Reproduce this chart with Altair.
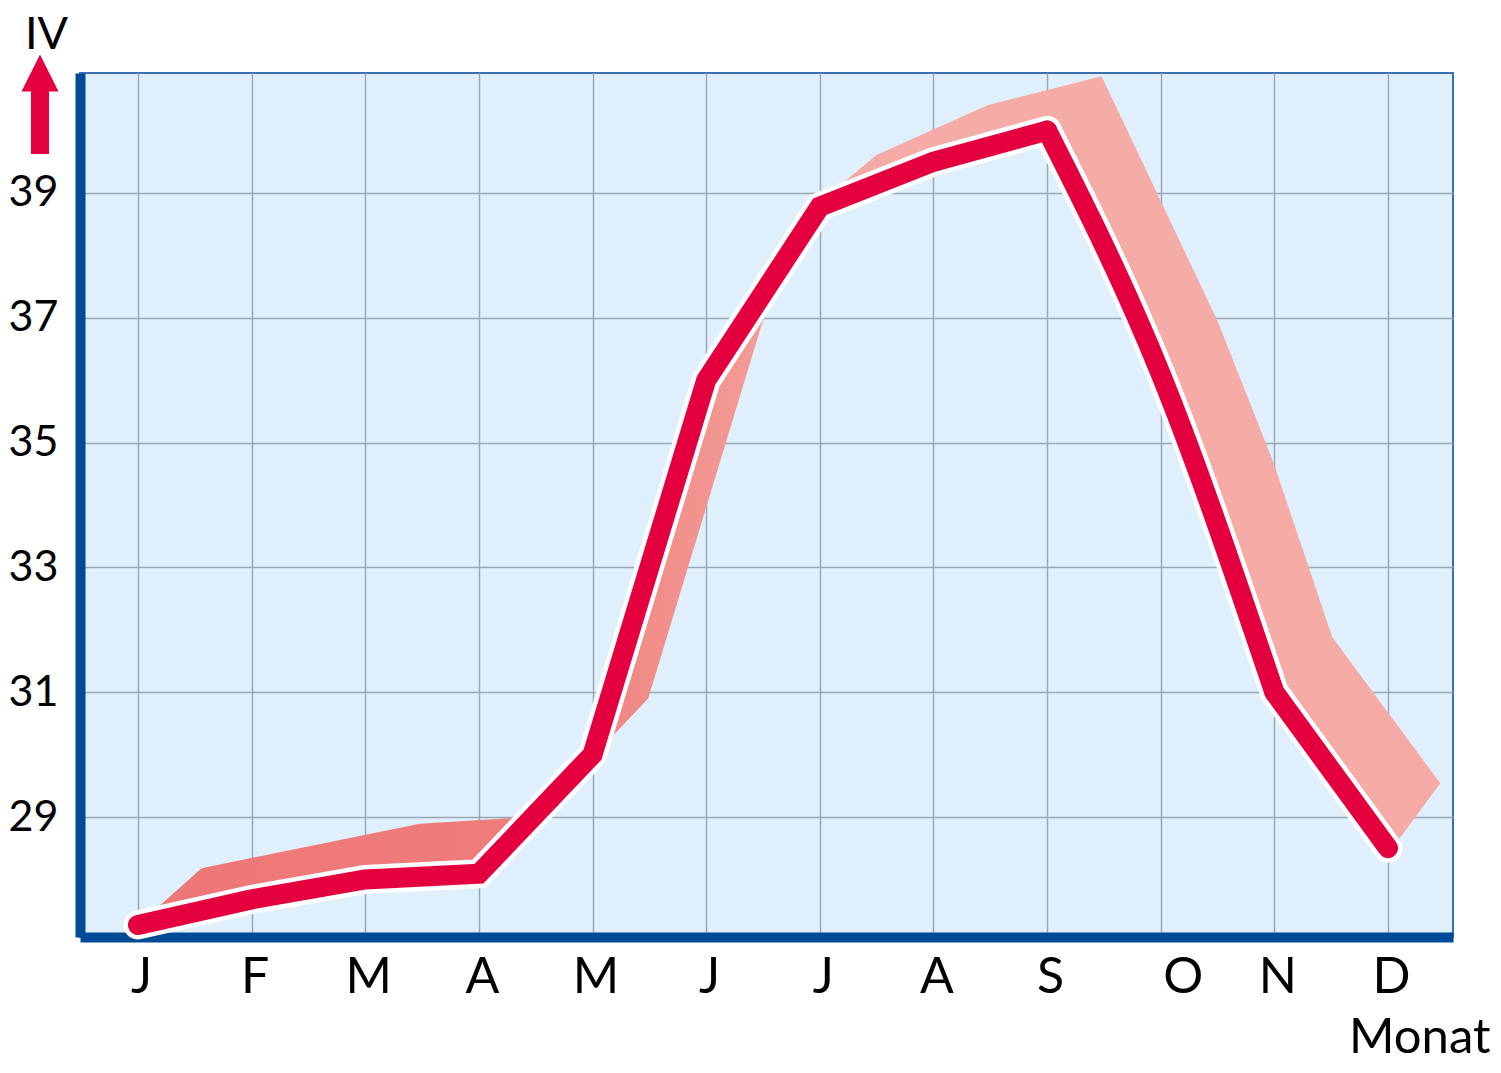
import altair as alt
import pandas as pd

# ---- data ----
months = ["J", "F", "M", "A", "M", "J", "J", "A", "S", "O", "N", "D"]
month_index = list(range(12))
line_values = [27.27, 27.68, 28.0, 28.09, 30.0, 36.0, 38.78, 39.5, 40.0, 36.1, 31.0, 28.5]

band_months = [0.0, 0.56, 2.48, 3.27, 3.5, 4.49, 5.49, 6.0, 6.5, 7.48, 8.48, 9.5, 9.99, 10.51, 11.46, 11.1]
band_values = [27.27, 28.18, 28.89, 28.98, 29.0, 30.9, 36.9, 38.85, 39.61, 40.41, 40.87, 36.95, 34.69, 31.88, 29.54, 28.65]

y_ticks = [29, 31, 33, 35, 37, 39]

RED = "#e4003f"
BLUE = "#004a97"
FONT = "Lato"

# straight pieces (J..S and N..D) and the curved autumn descent (S..N)
straight_df = pd.DataFrame({
    "m": month_index[:9] + month_index[10:],
    "v": line_values[:9] + line_values[10:],
    "seg": ["a"] * 9 + ["b"] * 2,
})
curve_df = pd.DataFrame({"m": month_index[8:11], "v": line_values[8:11]})

# polygon: second curve forward, then main line backward
poly_x = band_months + month_index[::-1]
poly_y = band_values + line_values[::-1]
band_df = pd.DataFrame({"m": poly_x, "v": poly_y, "i": list(range(len(poly_x)))})

x_scale = alt.Scale(domain=[-0.51, 11.572], nice=False, zero=False)
y_scale = alt.Scale(domain=[27.077, 40.923], nice=False, zero=False)

label_expr = "[" + ",".join("'%s'" % m for m in months) + "][datum.value]"

x_axis = alt.Axis(
    values=month_index, labelExpr=label_expr, grid=True, ticks=False, tickSize=0,
    domainColor=BLUE, domainWidth=10, labelPadding=15, labelFontSize=50,
    labelOffset={"condition": {"test": "datum.value === 9", "value": 22}, "value": 3},
    title="Monat", titleAlign="right", titleBaseline="alphabetic",
    titleX=1410, titleY=115, titleFont=FONT, titleFontSize=49, titleFontWeight="normal",
    titleColor="black",
)
y_axis = alt.Axis(
    values=y_ticks, format="d", grid=True, ticks=False, tickSize=0,
    domainColor=BLUE, domainWidth=10, labelPadding=22, labelFontSize=43,
    title="IV", titleAngle=0, titleAlign="center", titleBaseline="alphabetic",
    titleX=-34, titleY=-25, titleFont=FONT, titleFontSize=45, titleFontWeight="normal",
    titleColor="black",
)

gradient = alt.Gradient(
    gradient="linear", x1=0, x2=1, y1=0, y2=0,
    stops=[
        alt.GradientStop(color="#ee7777", offset=0),
        alt.GradientStop(color="#ef7c7b", offset=0.3),
        alt.GradientStop(color="#f29792", offset=0.45),
        alt.GradientStop(color="#f5aca7", offset=0.58),
        alt.GradientStop(color="#f5aaa5", offset=1),
    ],
)

band = alt.Chart(band_df).mark_line(fill=gradient, strokeOpacity=0, strokeWidth=0).encode(
    x=alt.X("m:Q", scale=x_scale, axis=x_axis),
    y=alt.Y("v:Q", scale=y_scale, axis=y_axis),
    order="i:Q",
)

def straight(color, width):
    return alt.Chart(straight_df).mark_line(
        color=color, strokeWidth=width, strokeCap="round", strokeJoin="miter"
    ).encode(x=alt.X("m:Q", scale=x_scale), y=alt.Y("v:Q", scale=y_scale), detail="seg:N")

def curved(color, width):
    return alt.Chart(curve_df).mark_line(
        color=color, strokeWidth=width, strokeCap="round", strokeJoin="miter",
        interpolate="monotone"
    ).encode(x=alt.X("m:Q", scale=x_scale), y=alt.Y("v:Q", scale=y_scale))

dummy = pd.DataFrame({"a": [0]})
shaft = alt.Chart(dummy).mark_rule(color=RED, strokeWidth=18, strokeCap="butt").encode(
    x=alt.value(-40), y=alt.value(17), y2=alt.value(81)
)
head = alt.Chart(dummy).mark_point(
    shape="M-1,1L0,-1L1,1Z", filled=True, color=RED, opacity=1, size=1369
).encode(x=alt.value(-40), y=alt.value(0))

chart = alt.layer(
    band,
    straight("white", 29), curved("white", 29),
    straight(RED, 20), curved(RED, 20),
    shaft, head,
).properties(
    width=1373, height=864,
    autosize=alt.AutoSizeParams(type="none"),
    padding={"left": 72, "top": 65, "right": 40, "bottom": 128},
    background="white",
).configure_view(
    fill="#dff0fc", stroke="#3b6fb1", strokeWidth=2
).configure_axis(
    gridColor="#9aa7b3", gridWidth=1.5, gridOpacity=1,
    labelFont=FONT, labelColor="black",
)

chart.save("out.html", embed_options={"renderer": "svg", "actions": False})
